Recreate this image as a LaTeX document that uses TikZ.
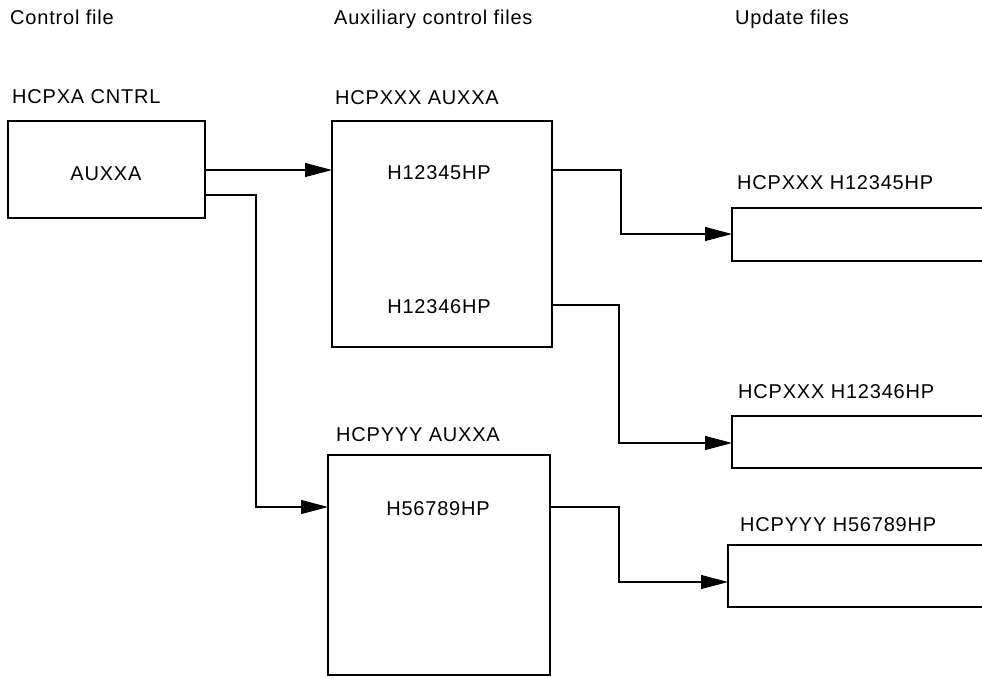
\documentclass[tikz,border=0pt]{standalone}
\usepackage{fontspec}
\setmainfont{Liberation Sans}[LetterSpace=4]
\usetikzlibrary{arrows.meta}
\tikzset{
  box/.style={draw, line width=1.8pt, inner sep=0pt, outer sep=0pt, anchor=north west},
  lbl/.style={anchor=base west, inner sep=0pt, font=\fontsize{20}{24}\selectfont},
  intext/.style={anchor=base, inner sep=0pt, font=\fontsize{20}{24}\selectfont},
  conn/.style={line width=1.1pt, -{Triangle[length=27pt,width=14pt]}},
}
\begin{document}
\begin{tikzpicture}[x=1pt,y=-1pt]
\useasboundingbox (0,0) rectangle (982,677);
\clip (0,0) rectangle (982,677);
% headers
\node[lbl] (h1) at (10,25) {Control file};
\node[lbl] (h2) at (334,25) {Auxiliary control files};
\node[lbl] (h3) at (735,25) {Update files};
% control file
\node[lbl] (l1) at (12,103) {HCPXA CNTRL};
\node[box, minimum width=197pt, minimum height=97pt] (ctrl) at (8,121) {};
\node[intext] (t1) at (106,180) {AUXXA};
% auxiliary files
\node[lbl] (l2) at (335,104) {HCPXXX AUXXA};
\node[box, minimum width=220pt, minimum height=226pt] (aux1) at (332,121) {};
\node[intext] (t2) at (439,179) {H12345HP};
\node[intext] (t3) at (439,313) {H12346HP};
\node[lbl] (l3) at (336,441) {HCPYYY AUXXA};
\node[box, minimum width=222pt, minimum height=220pt] (aux2) at (328,455) {};
\node[intext] (t4) at (438,515) {H56789HP};
% update files
\node[lbl] (l4) at (737,189) {HCPXXX H12345HP};
\node[box, minimum width=300pt, minimum height=53pt] (up1) at (732,208) {};
\node[lbl] (l5) at (738,398) {HCPXXX H12346HP};
\node[box, minimum width=300pt, minimum height=52pt] (up2) at (732,416) {};
\node[lbl] (l6) at (740,531) {HCPYYY H56789HP};
\node[box, minimum width=300pt, minimum height=62pt] (up3) at (728,545) {};
% connectors
\draw[conn] (ctrl.east |- 0,170) -- (aux1.west |- 0,170);
\draw[conn] (ctrl.east |- 0,195) -- (256,195) -- (256,507) -- (aux2.west |- 0,507);
\draw[conn] (aux1.east |- 0,170) -- (621,170) -- (621,234) -- (up1.west |- 0,234);
\draw[conn] (aux1.east |- 0,305) -- (619,305) -- (619,443) -- (up2.west |- 0,443);
\draw[conn] (aux2.east |- 0,507) -- (619,507) -- (619,582) -- (up3.west |- 0,582);
\end{tikzpicture}
\end{document}
